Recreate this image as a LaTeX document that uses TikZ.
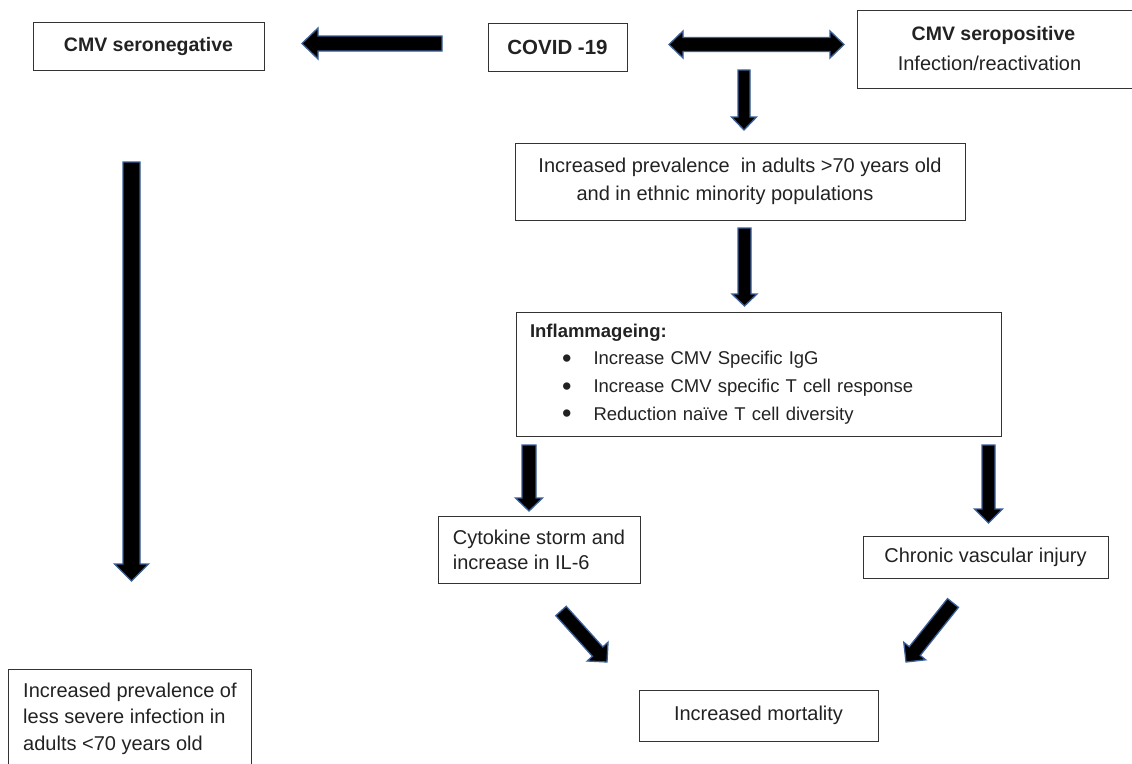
\documentclass[tikz,border=0pt]{standalone}
\usepackage{fontspec}
\setmainfont{Liberation Sans}
\usetikzlibrary{calc}
\definecolor{arrowblue}{HTML}{3A5F9A}
\definecolor{txt}{HTML}{222222}
\tikzset{
  box/.style={draw=black!80, line width=0.9pt, text=txt, inner sep=0pt,
    font=\fontsize{20}{28}\selectfont},
  barrow/.style={draw=arrowblue, fill=black, line width=1.3pt, line join=miter},
}
% block arrow: tail, tip, shaft half width, head half width, head length
\newcommand\blockarrow[5]{%
  \filldraw[barrow] let \p1=(#1), \p2=(#2), \n1={atan2(\y2-\y1,\x2-\x1)} in
    ($(\p1)+(\n1+90:#3)$)
    -- ($(\p2)+(\n1+180:#5)+(\n1+90:#3)$)
    -- ($(\p2)+(\n1+180:#5)+(\n1+90:#4)$)
    -- (\p2)
    -- ($(\p2)+(\n1+180:#5)+(\n1-90:#4)$)
    -- ($(\p2)+(\n1+180:#5)+(\n1-90:#3)$)
    -- ($(\p1)+(\n1-90:#3)$) -- cycle;}
\newcommand\bulletitem{\hspace*{32pt}\makebox[31.5pt][l]{\raisebox{-2.5pt}{\fontsize{27}{27}\selectfont •}}}
\begin{document}
\begin{tikzpicture}[x=1pt,y=-1pt]
\useasboundingbox (0,0) rectangle (1132,763);

% boxes
\node[box, minimum width=231pt, minimum height=48pt,
  font=\fontsize{19.5}{24}\selectfont\bfseries] (neg) at (148.5,46) {CMV seronegative};
\node[box, minimum width=139pt, minimum height=48pt,
  font=\fontsize{20.5}{24}\selectfont\bfseries] (covid) at (557.5,47) {COVID -19};
\node[box, minimum width=283pt, minimum height=78pt, align=center,
  font=\fontsize{20}{30}\selectfont] (pos) at (998.5,49)
  {{\fontsize{19.5}{30}\selectfont\bfseries CMV seropositive}\hspace*{10pt}\\Infection/reactivation\hspace*{18pt}};
\node[box, minimum width=450pt, minimum height=77pt, align=center] (prev) at (740,181.5)
  {Increased prevalence\ \ in adults >70 years old\\and in ethnic minority populations\hspace*{30pt}};
\node[box, minimum width=485pt, minimum height=124pt, text width=457pt, align=left,
  font=\fontsize{18.5}{27.7}\selectfont] (inflam) at (758.5,374)
  {\textbf{Inflammageing:}\\
   \bulletitem Increase CMV Specific IgG\\
   \bulletitem Increase CMV specific T cell response\\
   \bulletitem Reduction naïve T cell diversity};
\node[box, minimum width=202pt, minimum height=67pt, align=left,
  font=\fontsize{20}{25}\selectfont] (cyto) at (539,549.5)
  {Cytokine storm and\\increase in IL-6};
\node[box, minimum width=245pt, minimum height=42pt] (chronic) at (985.5,557)
  {Chronic vascular injury};
\node[box, minimum width=239pt, minimum height=51pt] (mort) at (758.5,715.5)
  {Increased mortality};
\node[box, anchor=north west, minimum width=243pt, inner ysep=13.5pt, align=left,
  font=\fontsize{20}{26.5}\selectfont] (less) at (8,669)
  {Increased prevalence of\\less severe infection in\\adults <70 years old};

% arrow end points
\coordinate (negTail) at (442,43.5);   \coordinate (negTip) at (302,43.5);
\coordinate (dA) at (669,44.5);        \coordinate (dB) at (844,44.5);
\coordinate (d1t) at (744,70);         \coordinate (d1p) at (744,130);
\coordinate (d2t) at (744.5,228);      \coordinate (d2p) at (744.5,306);
\coordinate (d3t) at (529,445);        \coordinate (d3p) at (529,511);
\coordinate (d4t) at (988.5,445);      \coordinate (d4p) at (988.5,523);
\coordinate (lgt) at (131.5,162);      \coordinate (lgp) at (131.5,581);
\coordinate (g1t) at (561,611);        \coordinate (g1p) at (607,662);
\coordinate (g2t) at (953,603);        \coordinate (g2p) at (906,662);

% arrows
\blockarrow{negTail}{negTip}{7.5pt}{15.5pt}{16pt}
\filldraw[barrow] (dA) -- ($(dA)+(14,-13.5)$) -- ($(dA)+(14,-7)$)
  -- ($(dB)+(-14,-7)$) -- ($(dB)+(-14,-13.5)$) -- (dB)
  -- ($(dB)+(-14,13.5)$) -- ($(dB)+(-14,7)$)
  -- ($(dA)+(14,7)$) -- ($(dA)+(14,13.5)$) -- cycle;
\blockarrow{d1t}{d1p}{6pt}{12.5pt}{13pt}
\blockarrow{d2t}{d2p}{6.5pt}{12.5pt}{12pt}
\blockarrow{d3t}{d3p}{7pt}{13.5pt}{13pt}
\blockarrow{d4t}{d4p}{6.5pt}{14pt}{14pt}
\blockarrow{lgt}{lgp}{8.5pt}{17pt}{17pt}
\blockarrow{g1t}{g1p}{7pt}{14pt}{14pt}
\blockarrow{g2t}{g2p}{7pt}{14pt}{14pt}
\end{tikzpicture}
\end{document}
